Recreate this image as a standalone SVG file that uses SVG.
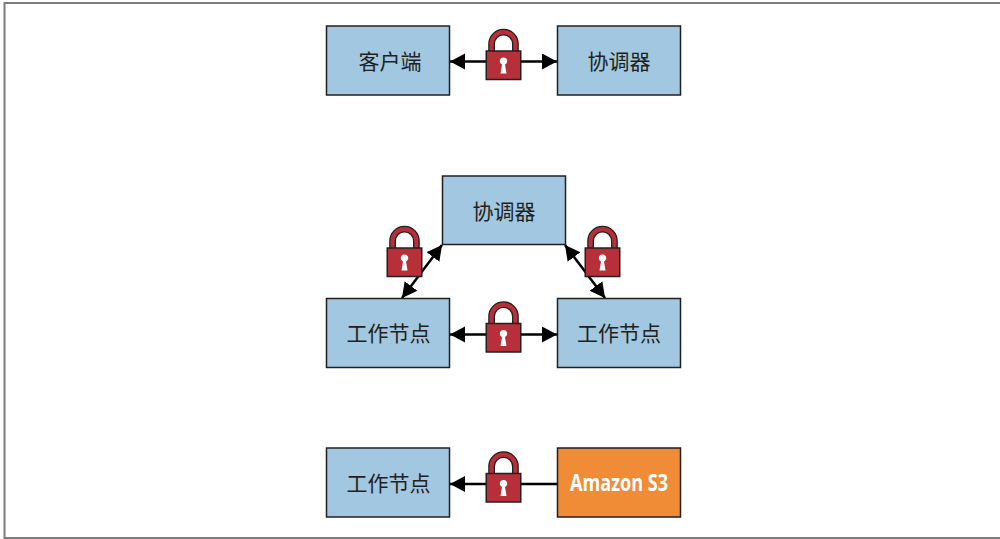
<svg xmlns="http://www.w3.org/2000/svg" width="1000" height="539" viewBox="0 0 1000 539">
<style>
.box{fill:#a1c8e0;stroke:#231f20;stroke-width:1.5}
.s3{fill:#f08c36;stroke:#231f20;stroke-width:1.5}
.lbl{font-family:"Noto Sans CJK SC","Noto Sans",sans-serif;font-size:21px;fill:#231f20;text-anchor:middle}
.s3t{font-family:"Open Sans","Noto Sans",sans-serif;font-weight:700;font-size:24px;fill:#fff;text-anchor:middle}
.c{stroke:#000;stroke-width:2.5;fill:none}
.frame{stroke:#7d7d7d;stroke-width:2;fill:none}
</style>
<defs>
<marker id="a" markerUnits="userSpaceOnUse" markerWidth="16" markerHeight="17" refX="15" refY="8" orient="auto-start-reverse"><path d="M0 0L15 8L0 16Z" fill="#000"/></marker>
<g id="lock">
<path d="M-11.900 2V-7A11.900 11.900 0 0 1 11.900 -7V2" fill="none" stroke="#231f20" stroke-width="6.800"/>
<path d="M-11.900 2V-7A11.900 11.900 0 0 1 11.900 -7V2" fill="none" stroke="#b72f38" stroke-width="4.200"/>
<rect x="-17.250" y="0" width="34.500" height="28.500" fill="#b72f38" stroke="#231f20" stroke-width="1.500"/>
<path d="M-1.500 13.500A3.700 3.700 0 1 1 1.500 13.500L3 22.500H-3Z" fill="#fff"/>
</g>
</defs>
<path class="frame" d="M1000 3H4.500V538H1000"/>
<g id="connectors">
<line class="c" x1="450" y1="61.500" x2="557" y2="61.500" marker-start="url(#a)" marker-end="url(#a)"/>
<line class="c" x1="442" y1="245" x2="402" y2="298" marker-start="url(#a)" marker-end="url(#a)"/>
<line class="c" x1="565" y1="245" x2="605" y2="298" marker-start="url(#a)" marker-end="url(#a)"/>
<line class="c" x1="450" y1="334.500" x2="557" y2="334.500" marker-start="url(#a)" marker-end="url(#a)"/>
<line class="c" x1="557" y1="484" x2="450" y2="484" marker-end="url(#a)"/>
</g>
<g id="client"><rect class="box" x="326.500" y="26" width="123" height="69"/><text class="lbl" x="390" y="68.500">客户端</text></g>
<g id="coordinator1"><rect class="box" x="557.500" y="26" width="123" height="69"/><text class="lbl" x="619" y="69">协调器</text></g>
<g id="coordinator2"><rect class="box" x="442.500" y="176" width="123" height="68.500"/><text class="lbl" x="504" y="218.500">协调器</text></g>
<g id="worker1"><rect class="box" x="326.500" y="298.500" width="123" height="69"/><text class="lbl" x="388.500" y="341">工作节点</text></g>
<g id="worker2"><rect class="box" x="557.500" y="298.500" width="123" height="69"/><text class="lbl" x="619" y="341">工作节点</text></g>
<g id="worker3"><rect class="box" x="326.500" y="448" width="123" height="69"/><text class="lbl" x="388.500" y="490.500">工作节点</text></g>
<g id="s3"><rect class="s3" x="557.500" y="448" width="123" height="69"/><text class="s3t" x="619" y="490.500" textLength="98" lengthAdjust="spacingAndGlyphs">Amazon S3</text></g>
<use href="#lock" x="503.500" y="51"/>
<use href="#lock" x="404.500" y="248"/>
<use href="#lock" x="602.500" y="248"/>
<use href="#lock" x="503.500" y="323.500"/>
<use href="#lock" x="503.500" y="473.500"/>
</svg>
